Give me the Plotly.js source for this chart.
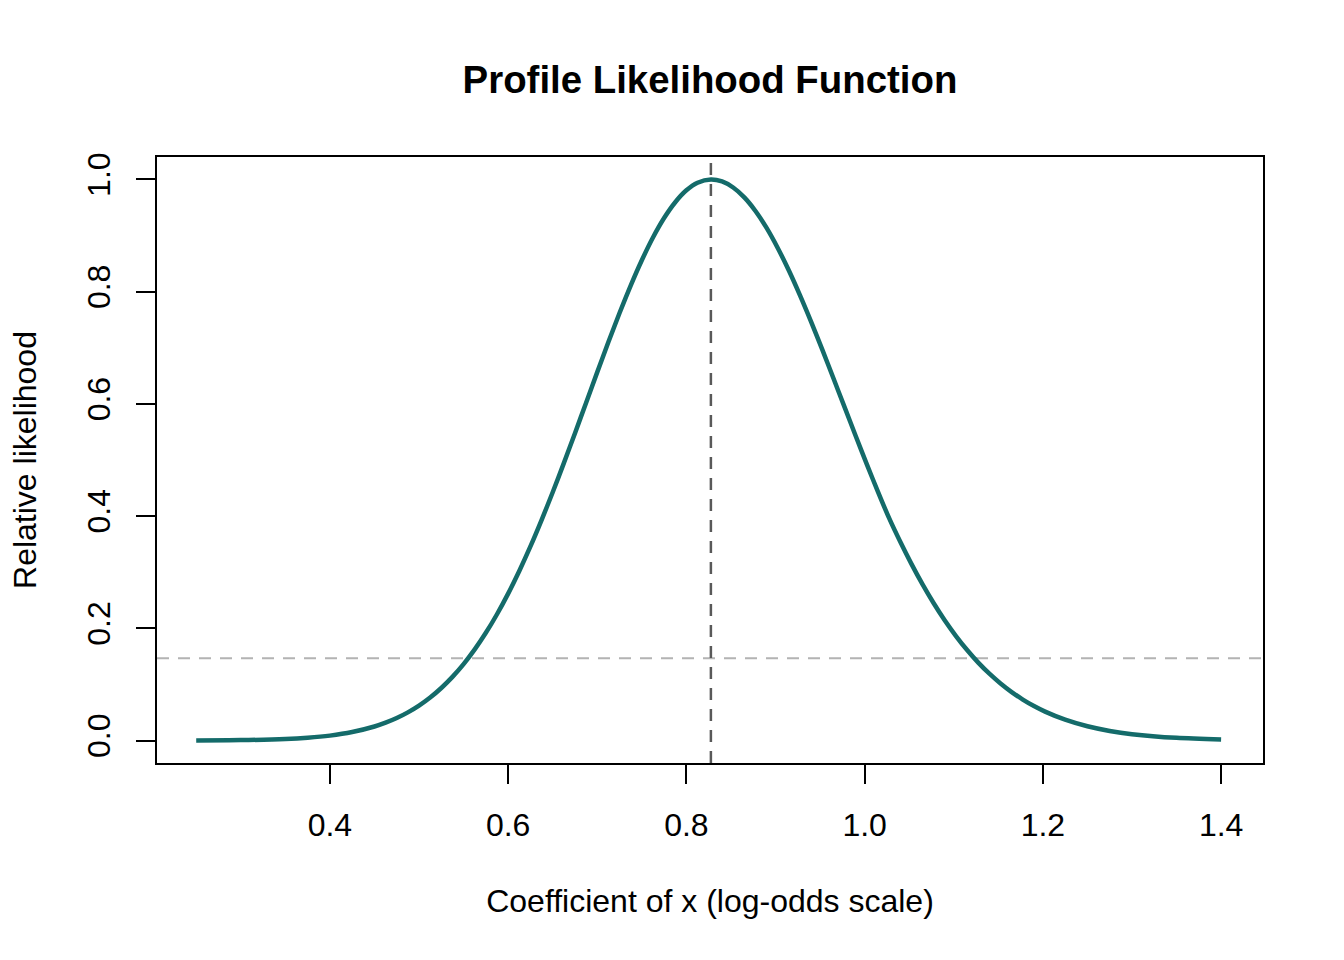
<!DOCTYPE html>
<html>
<head>
<meta charset="utf-8">
<script src="https://cdn.plot.ly/plotly-3.0.1.min.js"></script>
<style>html,body{margin:0;padding:0;background:#fff;}#chart{width:1344px;height:960px;}</style>
</head>
<body>
<div id="chart"></div>
<script>
// Profile likelihood curve
const coefValues = [
  0.25, 0.30, 0.35, 0.375, 0.40, 0.425, 0.45, 0.4625, 0.475, 0.4875,
  0.50, 0.5125, 0.525, 0.5375, 0.55, 0.5625, 0.575, 0.5875, 0.60, 0.6125,
  0.625, 0.6375, 0.65, 0.6625, 0.675, 0.6875, 0.70, 0.7125, 0.725, 0.7375,
  0.75, 0.7625, 0.775, 0.7875, 0.80, 0.8125, 0.8275, 0.84, 0.8525, 0.865,
  0.8775, 0.89, 0.9025, 0.915, 0.9275, 0.94, 0.9525, 0.965, 0.9775, 0.99,
  1.0025, 1.015, 1.0275, 1.04, 1.0525, 1.065, 1.0775, 1.09, 1.1025, 1.115,
  1.1275, 1.14, 1.1525, 1.165, 1.1775, 1.19, 1.2025, 1.225, 1.25, 1.275,
  1.30, 1.35, 1.40
];
const relLikelihood = [
  0.0002, 0.0008, 0.0027, 0.0050, 0.0088, 0.0151, 0.0250, 0.0318, 0.0401, 0.0502,
  0.0623, 0.0767, 0.0937, 0.1135, 0.1363, 0.1625, 0.1920, 0.2251, 0.2619, 0.3023,
  0.3460, 0.3930, 0.4426, 0.4944, 0.5478, 0.6022, 0.6566, 0.7102, 0.7619, 0.8109,
  0.8560, 0.8965, 0.9312, 0.9594, 0.9806, 0.9942, 1.0000, 0.9964, 0.9856, 0.9680,
  0.9438, 0.9136, 0.8779, 0.8377, 0.7934, 0.7462, 0.6967, 0.6456, 0.5942, 0.5428,
  0.4923, 0.4433, 0.3963, 0.3542, 0.3149, 0.2783, 0.2447, 0.2140, 0.1863, 0.1613,
  0.1389, 0.1191, 0.1017, 0.0864, 0.0731, 0.0615, 0.0516, 0.0372, 0.0254, 0.0171,
  0.0114, 0.0048, 0.0019
];
const mleValue = 0.8275;      // maximum likelihood estimate (vertical dashed line)
const cutoffValue = 0.1465;   // 95% cutoff exp(-3.84/2) (horizontal dashed line)
const xTickVals = [0.4, 0.6, 0.8, 1.0, 1.2, 1.4];
const xTickText = ["0.4", "0.6", "0.8", "1.0", "1.2", "1.4"];
const yTickVals = [0.0, 0.2, 0.4, 0.6, 0.8, 1.0];
const yTickText = ["0.0", "0.2", "0.4", "0.6", "0.8", "1.0"];

const FONT = "Liberation Sans, Arial, Helvetica, sans-serif";

const trace = {
  x: coefValues,
  y: relLikelihood,
  type: "scatter",
  mode: "lines",
  line: {color: "#146B6A", width: 4.5, shape: "spline", smoothing: 0.8},
  hoverinfo: "x+y"
};

const layout = {
  width: 1344,
  height: 960,
  margin: {l: 157, r: 81, t: 157, b: 197},
  paper_bgcolor: "#ffffff",
  plot_bgcolor: "#ffffff",
  showlegend: false,
  font: {family: FONT, size: 32, color: "#000"},
  title: {
    text: "Profile Likelihood Function",
    font: {family: FONT, size: 38.4, color: "#000", weight: 700},
    x: 0.5, xref: "paper", xanchor: "center",
    y: 1 - 80 / 960, yref: "container", yanchor: "middle"
  },
  xaxis: {
    range: [0.206, 1.447],
    tickvals: xTickVals,
    ticktext: xTickText,
    ticks: "outside",
    ticklen: 19,
    tickwidth: 2,
    tickcolor: "#000",
    ticklabelstandoff: 14,
    showline: true,
    linecolor: "#000",
    linewidth: 2,
    mirror: true,
    showgrid: false,
    zeroline: false,
    tickfont: {family: FONT, size: 32, color: "#000"},
    title: {text: "Coefficient of x (log-odds scale)", font: {family: FONT, size: 32, color: "#000"}, standoff: 47}
  },
  yaxis: {
    range: [-0.04, 1.04],
    tickvals: yTickVals,
    ticktext: yTickText,
    tickangle: -90,
    ticks: "outside",
    ticklen: 19,
    tickwidth: 2,
    tickcolor: "#000",
    ticklabelstandoff: 13,
    showline: true,
    linecolor: "#000",
    linewidth: 2,
    mirror: true,
    showgrid: false,
    zeroline: false,
    tickfont: {family: FONT, size: 32, color: "#000"},
    title: {text: "Relative likelihood", font: {family: FONT, size: 32, color: "#000"}, standoff: 35}
  },
  shapes: [
    {type: "line", xref: "paper", yref: "y", x0: 0, x1: 1, y0: cutoffValue, y1: cutoffValue,
     line: {color: "#b3b3b3", width: 2, dash: "12px,9px"}, layer: "below"},
    {type: "line", xref: "x", yref: "paper", x0: mleValue, x1: mleValue, y0: 0, y1: 1,
     line: {color: "#595959", width: 2.5, dash: "12px,9px"}, layer: "below"}
  ]
};

Plotly.newPlot("chart", [trace], layout, {displayModeBar: false, staticPlot: true});
</script>
</body>
</html>
